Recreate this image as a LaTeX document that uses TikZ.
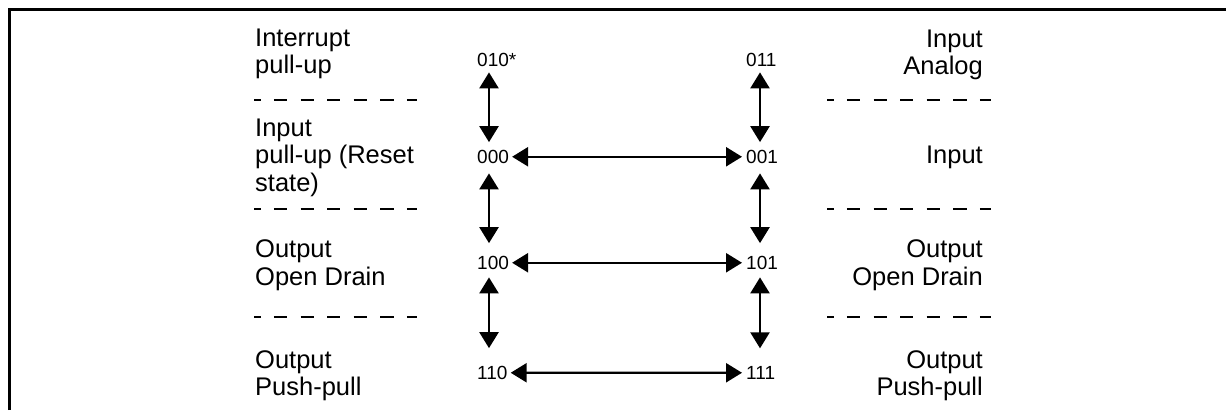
\documentclass[tikz,border=0pt]{standalone}
\usepackage{fontspec}
\setmainfont{Liberation Sans}
\usetikzlibrary{arrows.meta}

\begin{document}
\begin{tikzpicture}[
    x=1pt, y=-1pt,
    mode/.style={inner sep=0pt, font=\fontsize{25.5}{27.5}\selectfont},
    lmode/.style={mode, align=left, anchor=north west},
    rmode/.style={mode, align=right, anchor=north east},
    code/.style={inner sep=0pt, anchor=base west, font=\fontsize{19}{21}\selectfont},
    dbl/.style={{Triangle[length=16pt,width=19pt]}-{Triangle[length=16pt,width=19pt]}, line width=2.4pt},
    sep/.style={line width=2pt, dash pattern=on 13.3pt off 13.3pt, dash phase=6.7pt}
]
\useasboundingbox (0,0) rectangle (1226,410);

% Frame
\draw[line width=2.4pt] (9.5,410) -- (9.5,9.5) -- (1226,9.5);

% Left mode labels
\node[lmode] (lintr) at (255,28.5) {Interrupt\\pull-up};
\node[lmode] (linpu) at (255,118.5) {Input\\pull-up (Reset\\state)};
\node[lmode] (lodrn) at (255,239.5) {Output\\Open Drain};
\node[lmode] (lpp) at (255,350) {Output\\Push-pull};

% Right mode labels
\node[rmode] (rana) at (983,29.3) {Input\\Analog};
\node[rmode] (rin) at (983,145.7) {Input};
\node[rmode] (rodrn) at (983,239.5) {Output\\Open Drain};
\node[rmode] (rpp) at (983,350) {Output\\Push-pull};

% Separators
\foreach \y in {99.5,208.5,316.5} {
    \draw[sep] (254,\y) -- (417,\y);
    \draw[sep] (827,\y) -- (991,\y);
}

% Mode codes
\node[code] (c010) at (477,66.7) {010*};
\node[code] (c011) at (746,66.7) {011};
\node[code] (c000) at (477,163.3) {000};
\node[code] (c001) at (746,163.3) {001};
\node[code] (c100) at (477,269.3) {100};
\node[code] (c101) at (746,269.3) {101};
\node[code] (c110) at (477,379.3) {110};
\node[code] (c111) at (746,379.3) {111};

% Vertical transitions
\draw[dbl, shorten <=5.3pt, shorten >=7.7pt] ([xshift=12pt]c010.south west) -- ([xshift=12pt]c000.north west);
\draw[dbl, shorten <=9.7pt, shorten >=12.7pt] ([xshift=12pt]c000.south west) -- ([xshift=12pt]c100.north west);
\draw[dbl, shorten <=7.7pt, shorten >=17.7pt] ([xshift=12pt]c100.south west) -- ([xshift=12pt]c110.north west);
\draw[dbl, shorten <=5.3pt, shorten >=7.7pt] ([xshift=14pt]c011.south west) -- ([xshift=14pt]c001.north west);
\draw[dbl, shorten <=9.7pt, shorten >=12.7pt] ([xshift=14pt]c001.south west) -- ([xshift=14pt]c101.north west);
\draw[dbl, shorten <=7.7pt, shorten >=17.7pt] ([xshift=14pt]c101.south west) -- ([xshift=14pt]c111.north west);

% Horizontal transitions
\draw[dbl, shorten <=3pt, shorten >=4pt] (c000) -- (c001);
\draw[dbl, shorten <=3pt, shorten >=4pt] (c100) -- (c101);
\draw[dbl, shorten <=3pt, shorten >=4pt] (c110) -- (c111);

\end{tikzpicture}
\end{document}
